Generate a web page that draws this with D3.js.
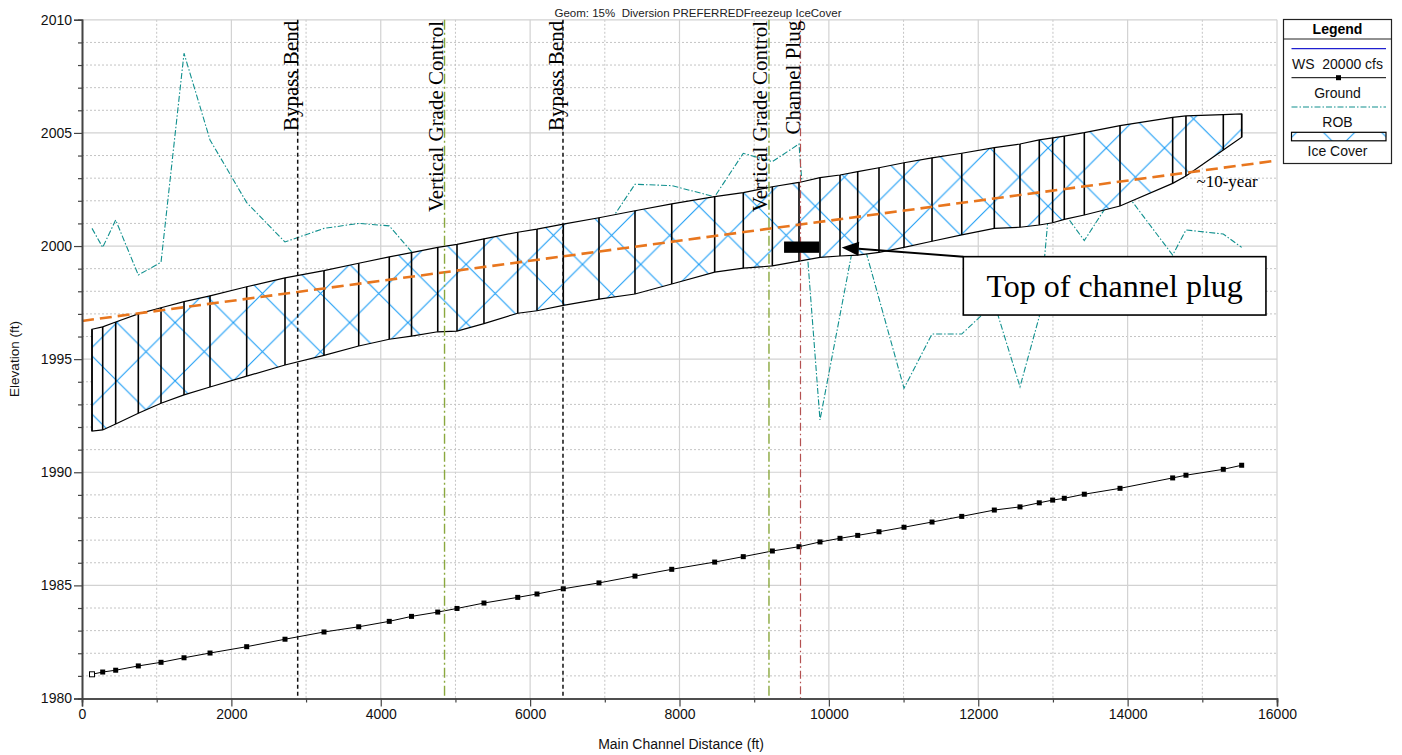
<!DOCTYPE html>
<html><head><meta charset="utf-8">
<script src="https://cdn.jsdelivr.net/npm/d3@7"></script>
<style>
html,body{margin:0;padding:0;background:#fff;}
svg{display:block;}
</style></head>
<body><svg id="chart" width="1402" height="755"></svg>
<script>
// Cross-section stations along the main channel (ft)
const stations = [134, 277, 451, 754, 1058, 1366, 1714, 2205, 2718, 3240, 3705, 4114, 4412, 4763, 5021, 5382, 5834, 6092, 6444, 6922, 7404, 7896, 8471, 8854, 9243, 9600, 9881, 10149, 10386, 10671, 11006, 11381, 11779, 12215, 12559, 12817, 12996, 13152, 13420, 13898, 14603, 14781, 15281, 15527];
// Channel invert (ft)
const groundElev = [1981.07, 1981.17, 1981.25, 1981.44, 1981.60, 1981.80, 1982.01, 1982.29, 1982.62, 1982.94, 1983.17, 1983.41, 1983.63, 1983.82, 1983.98, 1984.22, 1984.47, 1984.62, 1984.85, 1985.11, 1985.41, 1985.71, 1986.03, 1986.27, 1986.52, 1986.71, 1986.92, 1987.08, 1987.21, 1987.37, 1987.57, 1987.80, 1988.05, 1988.33, 1988.47, 1988.65, 1988.77, 1988.85, 1989.03, 1989.29, 1989.75, 1989.87, 1990.13, 1990.31];
// Right overbank elevation (ft)
const robElev = [2000.78, 1999.94, 2001.15, 1998.72, 1999.28, 2008.52, 2004.69, 2001.92, 2000.18, 2000.78, 2001.00, 2000.89, 1999.75, 1999.29, 1999.47, 1999.60, 1999.82, 1999.91, 2000.09, 2000.35, 2002.73, 2002.67, 2002.18, 2004.10, 2003.73, 2004.51, 1992.31, 1996.95, 2001.06, 1997.68, 1993.71, 1996.11, 1996.11, 1997.47, 1993.78, 1996.88, 2003.49, 2001.46, 2000.24, 2002.68, 1999.60, 2000.71, 2000.53, 1999.94];
// Ice cover top / bottom (ft)
const iceTopElev = [1996.32, 1996.43, 1996.64, 1997.00, 1997.27, 1997.54, 1997.80, 1998.20, 1998.59, 1998.91, 1999.24, 1999.52, 1999.71, 1999.94, 2000.07, 2000.32, 2000.61, 2000.75, 2000.97, 2001.25, 2001.56, 2001.86, 2002.18, 2002.36, 2002.62, 2002.81, 2003.02, 2003.14, 2003.29, 2003.46, 2003.68, 2003.90, 2004.10, 2004.35, 2004.51, 2004.69, 2004.78, 2004.86, 2005.01, 2005.32, 2005.69, 2005.75, 2005.81, 2005.84];
const iceBottomElev = [1991.82, 1991.87, 1992.13, 1992.61, 1993.05, 1993.42, 1993.77, 1994.25, 1994.74, 1995.17, 1995.58, 1995.88, 1996.02, 1996.21, 1996.24, 1996.57, 1997.03, 1997.14, 1997.38, 1997.65, 1997.88, 1998.32, 1998.85, 1999.02, 1999.12, 1999.33, 1999.50, 1999.56, 1999.60, 1999.72, 1999.94, 2000.21, 2000.49, 2000.78, 2000.83, 2000.93, 2001.03, 2001.18, 2001.37, 2001.77, 2002.77, 2003.10, 2004.24, 2004.81];
// ~10-year water surface trend
const tenYearStations = [0, 16000];
const tenYearElev = [1996.69, 2003.78];
// Reference features along the reach
const refNames = ["Bypass Bend", "Vertical Grade Control", "Bypass Bend", "Vertical Grade Control", "Channel Plug"];
const refStations = [2888, 4854, 6440, 9198, 9620];
const refKinds = ["bend", "grade", "bend", "grade", "plug"];
// Channel plug top marker and callout
const plugStations = [9400, 9870];
const plugElev = [1999.7, 2000.2];
const calloutStations = [11800, 15852];
const calloutElev = [1996.95, 1999.53];
const arrowTip = [10172, 1999.94];
// Axis ticks
const xTicks = [0, 2000, 4000, 6000, 8000, 10000, 12000, 14000, 16000];
const yTicks = [1980, 1985, 1990, 1995, 2000, 2005, 2010];
const legendLabels = ["WS  20000 cfs", "Ground", "ROB", "Ice Cover"];

const svg = d3.select("#chart");
const x = d3.scaleLinear().domain([0, 16000]).range([82, 1277]);
const y = d3.scaleLinear().domain([1980, 2010]).range([698.5, 19.8]);
const sans = "Arial, 'Liberation Sans', sans-serif";
const serif = "'Times New Roman', 'Liberation Serif', serif";

const defs = svg.append("defs");
const pat = defs.append("pattern").attr("id", "iceHatch")
  .attr("patternUnits", "userSpaceOnUse").attr("width", 58.2).attr("height", 58.2)
  .attr("patternTransform", "translate(0.5,31.6)");
pat.append("path").attr("d", "M0,0L58.2,58.2M58.2,0L0,58.2M-1,1L1,-1M57.2,59.2L59.2,57.2")
  .attr("stroke", "#1a9cf5").attr("stroke-width", 1.1).attr("fill", "none");

// grid
const grid = svg.append("g");
const xMinor = d3.range(1000, 16000, 2000);
const yMinor = d3.range(1980, 2010, 1).filter(v => v % 5 !== 0);
grid.selectAll(".xm").data(xMinor).join("line")
  .attr("x1", d => x(d)).attr("x2", d => x(d)).attr("y1", y(2010)).attr("y2", y(1980))
  .attr("stroke", "#c4c4c4").attr("stroke-dasharray", "2,2");
grid.selectAll(".ym").data(yMinor).join("line")
  .attr("x1", x(0)).attr("x2", x(16000)).attr("y1", d => y(d)).attr("y2", d => y(d))
  .attr("stroke", "#c4c4c4").attr("stroke-dasharray", "2,2");
grid.selectAll(".xM").data(xTicks.slice(1)).join("line")
  .attr("x1", d => x(d)).attr("x2", d => x(d)).attr("y1", y(2010)).attr("y2", y(1980))
  .attr("stroke", "#d2d2d2").attr("stroke-width", 1.2);
grid.selectAll(".yM").data(yTicks.slice(1)).join("line")
  .attr("x1", x(0)).attr("x2", x(16000)).attr("y1", d => y(d)).attr("y2", d => y(d))
  .attr("stroke", "#d2d2d2").attr("stroke-width", 1.2);

const pts = stations.map((s, i) => ({
  s, g: groundElev[i], rob: robElev[i], top: iceTopElev[i], bot: iceBottomElev[i]
}));

// ROB
svg.append("path").datum(pts)
  .attr("d", d3.line().x(d => x(d.s)).y(d => y(d.rob)))
  .attr("fill", "none").attr("stroke", "#10908e").attr("stroke-width", 1.1)
  .attr("stroke-dasharray", "6,2,1.5,2");

// Ground
svg.append("path").datum(pts)
  .attr("d", d3.line().x(d => x(d.s)).y(d => y(d.g)))
  .attr("fill", "none").attr("stroke", "#000").attr("stroke-width", 1);
svg.selectAll(".gm").data(pts).join("rect")
  .attr("x", d => x(d.s) - 2.5).attr("y", d => y(d.g) - 2.5)
  .attr("width", 5).attr("height", 5)
  .attr("fill", (d, i) => i === 0 ? "#fff" : "#000")
  .attr("stroke", "#000").attr("stroke-width", (d, i) => i === 0 ? 1 : 0);

// Ice cover
const iceArea = d3.area().x(d => x(d.s)).y0(d => y(d.bot)).y1(d => y(d.top));
svg.append("path").datum(pts).attr("d", iceArea).attr("fill", "#fff");
svg.append("path").datum(pts).attr("d", iceArea).attr("fill", "url(#iceHatch)");
svg.selectAll(".sec").data(pts).join("line")
  .attr("x1", d => x(d.s)).attr("x2", d => x(d.s))
  .attr("y1", d => y(d.bot)).attr("y2", d => y(d.top))
  .attr("stroke", "#000").attr("stroke-width", 1.6);
svg.append("path").datum(pts)
  .attr("d", d3.line().x(d => x(d.s)).y(d => y(d.top))(pts) + "L" +
    pts.slice().reverse().map(d => x(d.s) + "," + y(d.bot)).join("L") + "Z")
  .attr("fill", "none").attr("stroke", "#000").attr("stroke-width", 1.2);

// ~10-year line
svg.append("line")
  .attr("x1", x(tenYearStations[0])).attr("y1", y(tenYearElev[0]))
  .attr("x2", x(tenYearStations[1])).attr("y2", y(tenYearElev[1]))
  .attr("stroke", "#e8761e").attr("stroke-width", 2.6).attr("stroke-dasharray", "12,6");
svg.append("text").attr("x", x(14922)).attr("y", y(2002.61))
  .attr("font-family", serif).attr("font-size", 17).text("~10-year");

// Reference lines
const refStyle = {
  bend: { stroke: "#111", dash: "4,3", w: 1.5 },
  grade: { stroke: "#8aa83e", dash: "10,3,2,3", w: 1.4 },
  plug: { stroke: "#b45050", dash: "8,3,1.5,3", w: 1.2 }
};
const refs = refStations.map((s, i) => ({ s, name: refNames[i], kind: refKinds[i] }));
svg.selectAll(".ref").data(refs).join("line")
  .attr("x1", d => x(d.s)).attr("x2", d => x(d.s)).attr("y1", y(2010)).attr("y2", y(1980))
  .attr("stroke", d => refStyle[d.kind].stroke)
  .attr("stroke-width", d => refStyle[d.kind].w)
  .attr("stroke-dasharray", d => refStyle[d.kind].dash);
svg.selectAll(".refl").data(refs).join("text")
  .attr("transform", d => `translate(${x(d.s) - (d.kind === "grade" ? 2 : 0)},${y(2010) + 1}) rotate(-90)`)
  .attr("text-anchor", "end")
  .attr("font-family", serif).attr("font-size", 21).attr("fill", "#000")
  .text(d => d.name);

// Channel plug top marker + callout
svg.append("rect")
  .attr("x", x(plugStations[0])).attr("y", y(plugElev[1]))
  .attr("width", x(plugStations[1]) - x(plugStations[0]))
  .attr("height", y(plugElev[0]) - y(plugElev[1])).attr("fill", "#000");
const bx0 = x(calloutStations[0]), by0 = y(calloutElev[1]);
const tipX = x(arrowTip[0]), tipY = y(arrowTip[1]);
const ang = Math.atan2(by0 - tipY, bx0 - tipX);
const hl = 17, hw = 7;
const baseX = tipX + hl * Math.cos(ang), baseY = tipY + hl * Math.sin(ang);
svg.append("line").attr("x1", bx0).attr("y1", by0).attr("x2", baseX).attr("y2", baseY)
  .attr("stroke", "#000").attr("stroke-width", 2);
svg.append("path")
  .attr("d", `M${tipX},${tipY}L${baseX - hw * Math.sin(ang)},${baseY + hw * Math.cos(ang)}L${baseX + hw * Math.sin(ang)},${baseY - hw * Math.cos(ang)}Z`)
  .attr("fill", "#000");
svg.append("rect")
  .attr("x", bx0).attr("y", by0)
  .attr("width", x(calloutStations[1]) - bx0)
  .attr("height", y(calloutElev[0]) - by0)
  .attr("fill", "#fff").attr("stroke", "#000").attr("stroke-width", 1.6);
svg.append("text")
  .attr("x", (bx0 + x(calloutStations[1])) / 2).attr("y", by0 + 40.5)
  .attr("text-anchor", "middle").attr("font-family", serif).attr("font-size", 32)
  .text("Top of channel plug");

// Axes
const xAxisMajor = d3.axisBottom(x).tickValues(xTicks).tickSize(8).tickPadding(3).tickFormat(d3.format("d"));
svg.append("g").attr("transform", `translate(0,${y(1980)})`).call(xAxisMajor);
svg.append("g").attr("transform", `translate(0,${y(1980)})`)
  .call(d3.axisBottom(x).tickValues(xMinor).tickSize(4).tickFormat(""));
svg.append("g").attr("transform", `translate(${x(0)},0)`)
  .call(d3.axisLeft(y).tickValues(yTicks).tickSize(8).tickPadding(2).tickFormat(d3.format("d")));
svg.append("g").attr("transform", `translate(${x(0)},0)`)
  .call(d3.axisLeft(y).tickValues(yMinor).tickSize(4).tickFormat(""));
svg.selectAll(".domain").attr("stroke", "#444").attr("stroke-width", 1.6);
svg.selectAll(".tick line").attr("stroke", "#444").attr("stroke-width", 1.2);
svg.selectAll(".tick text").attr("font-family", sans).attr("font-size", 14).attr("fill", "#111");

// Titles
svg.append("text").attr("x", 698).attr("y", 16.5).attr("text-anchor", "middle")
  .attr("font-family", sans).attr("font-size", 11.5).attr("fill", "#222")
  .style("white-space", "pre")
  .text("Geom: 15%  Diversion PREFERREDFreezeup IceCover");
svg.append("text").attr("x", 681).attr("y", 749).attr("text-anchor", "middle")
  .attr("font-family", sans).attr("font-size", 14).attr("fill", "#111")
  .text("Main Channel Distance (ft)");
svg.append("text").attr("transform", "translate(19,359) rotate(-90)").attr("text-anchor", "middle")
  .attr("font-family", sans).attr("font-size", 13.5).attr("fill", "#111")
  .text("Elevation (ft)");

// Legend
const lg = svg.append("g");
const lx0 = 1283.5, lx1 = 1391.5, lcx = (lx0 + lx1) / 2;
lg.append("rect").attr("x", lx0).attr("y", 19.5).attr("width", lx1 - lx0).attr("height", 144)
  .attr("fill", "#fff").attr("stroke", "#222").attr("stroke-width", 1.2);
lg.append("line").attr("x1", lx0).attr("x2", lx1).attr("y1", 39).attr("y2", 39)
  .attr("stroke", "#222").attr("stroke-width", 1);
lg.append("text").attr("x", lcx).attr("y", 34).attr("text-anchor", "middle")
  .attr("font-family", sans).attr("font-size", 14).attr("font-weight", "bold").text("Legend");
lg.append("line").attr("x1", 1291.5).attr("x2", 1386).attr("y1", 48.7).attr("y2", 48.7)
  .attr("stroke", "#2020d0").attr("stroke-width", 1.2);
lg.append("line").attr("x1", 1291.5).attr("x2", 1386).attr("y1", 77.7).attr("y2", 77.7)
  .attr("stroke", "#000").attr("stroke-width", 1);
lg.append("rect").attr("x", 1336).attr("y", 75.2).attr("width", 5).attr("height", 5).attr("fill", "#000");
lg.append("line").attr("x1", 1291.5).attr("x2", 1386).attr("y1", 107).attr("y2", 107)
  .attr("stroke", "#10908e").attr("stroke-width", 1.1).attr("stroke-dasharray", "6,2,1.5,2");
lg.append("rect").attr("x", 1291.5).attr("y", 132.3).attr("width", 94.5).attr("height", 8.5)
  .attr("fill", "url(#iceHatch)").attr("stroke", "#000").attr("stroke-width", 1.2);
const legY = [69, 97.5, 126.5, 156];
lg.selectAll(".lt").data(legendLabels).join("text")
  .attr("x", lcx).attr("y", (d, i) => legY[i]).attr("text-anchor", "middle")
  .attr("font-family", sans).attr("font-size", 14).attr("fill", "#111")
  .style("white-space", "pre")
  .text(d => d);
</script>
</body></html>
